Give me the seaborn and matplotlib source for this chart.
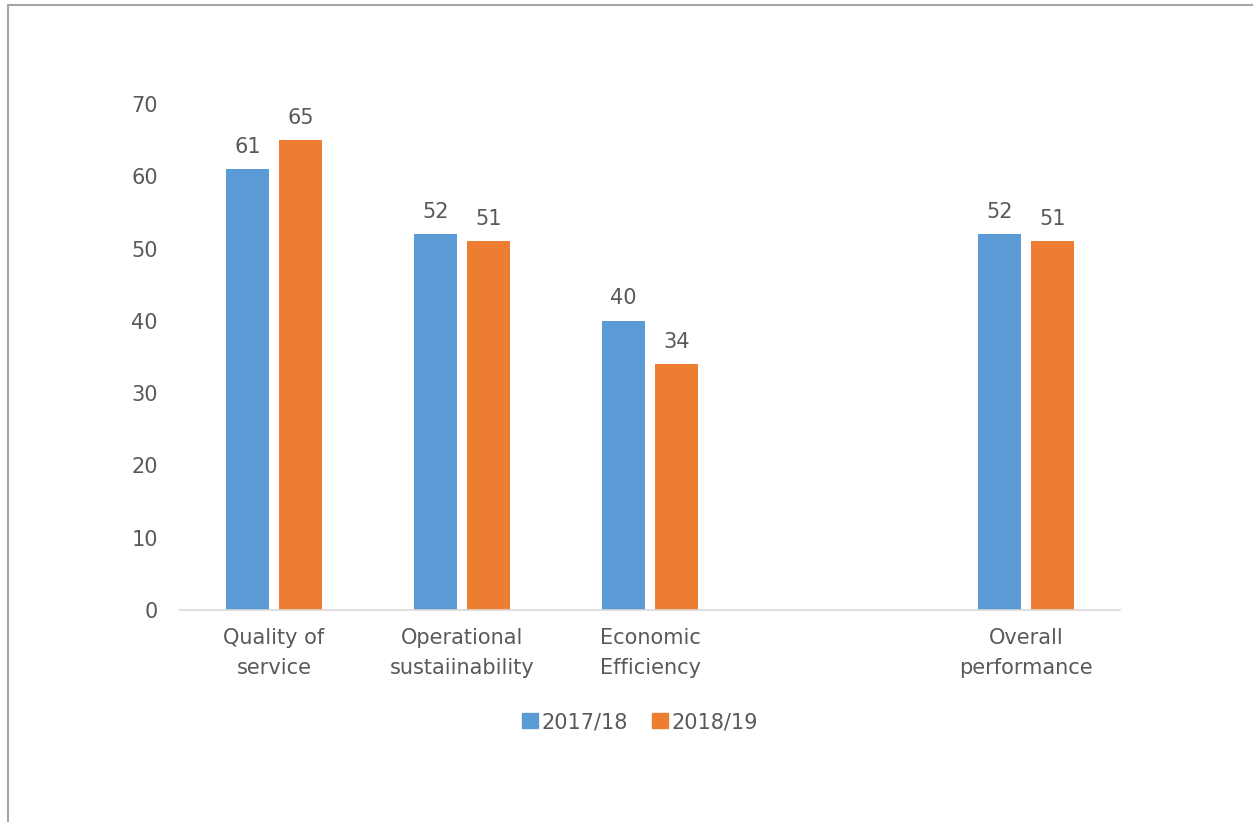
import matplotlib
matplotlib.use("Agg")
import matplotlib.pyplot as plt
from matplotlib.lines import Line2D
import seaborn as sns
import pandas as pd

# Category order, with an empty slot before the overall score
categories = ["Quality of\nservice", "Operational\nsustaiinability", "Economic\nEfficiency", "", "Overall\nperformance"]
scored = ["Quality of\nservice", "Operational\nsustaiinability", "Economic\nEfficiency", "Overall\nperformance"]
years = ["2017/18", "2018/19"]
scores_2017_18 = [61, 52, 40, 52]
scores_2018_19 = [65, 51, 34, 51]

df = pd.DataFrame({
    "category": scored * 2,
    "year": [years[0]] * len(scored) + [years[1]] * len(scored),
    "score": scores_2017_18 + scores_2018_19,
})

sns.set_theme(style="white")
plt.rcParams["font.family"] = ["DejaVu Sans"]
text_color = "#595959"
colors = ["#5B9BD5", "#ED7D31"]

fig = plt.figure(figsize=(12.53, 8.22), dpi=100)
ax = fig.add_axes([180 / 1253, 1 - 610 / 822, 940 / 1253, 506 / 822])

sns.barplot(
    data=df, x="category", y="score", hue="year", order=categories,
    hue_order=years, palette=colors, saturation=1, width=0.564, gap=0.2,
    errorbar=None, ax=ax, legend=True, linewidth=0,
)

for container in ax.containers:
    ax.bar_label(container, fmt="{:.0f}", padding=9, fontsize=15, color=text_color)

ax.set_ylim(0, 70)
ax.set_yticks(range(0, 71, 10))
ax.set_xlabel("")
ax.set_ylabel("")
for side in ["top", "right", "left"]:
    ax.spines[side].set_visible(False)
ax.spines["bottom"].set_color("#D9D9D9")
ax.spines["bottom"].set_linewidth(1.2)
ax.tick_params(axis="y", length=0, pad=16, labelsize=15, labelcolor=text_color)
ax.tick_params(axis="x", length=0, pad=13, labelsize=15, labelcolor=text_color)
for lbl in ax.get_xticklabels():
    lbl.set_linespacing(1.65)

ax.legend_.remove()
handles = [plt.Rectangle((0, 0), 1, 1, color=c) for c in colors]
fig.legend(
    handles, years, loc="center", bbox_to_anchor=(640 / 1253, 1 - 722 / 822),
    ncol=2, frameon=False, fontsize=15, handlelength=0.75, handleheight=0.75,
    handletextpad=0.15, columnspacing=1.2, labelcolor=text_color,
)

# Chart area border (top and left edges)
fig.add_artist(Line2D([8 / 1253, 1], [1 - 5 / 822, 1 - 5 / 822], transform=fig.transFigure, color="#A6A6A6", lw=1.5))
fig.add_artist(Line2D([8 / 1253, 8 / 1253], [0, 1 - 5 / 822], transform=fig.transFigure, color="#A6A6A6", lw=1.5))

fig.savefig("out.png", dpi=100, facecolor="white")
